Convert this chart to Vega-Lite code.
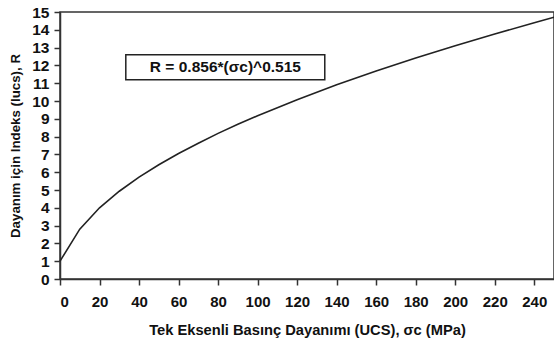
{
  "$schema": "https://vega.github.io/schema/vega-lite/v6.json",
  "width": 494,
  "height": 267,
  "autosize": "none",
  "padding": {"left": 60, "top": 12, "right": 0, "bottom": 71},
  "background": "white",
  "config": {
    "view": {"stroke": "#333", "strokeWidth": 1.5},
    "font": "Liberation Sans",
    "axis": {
      "grid": false,
      "labelOverlap": false,
      "domainColor": "#333", "domainWidth": 1.5,
      "tickColor": "#333", "tickWidth": 1.5, "tickSize": 6,
      "labelFont": "Liberation Sans", "labelFontWeight": "bold", "labelColor": "#111",
      "titleFont": "Liberation Sans", "titleFontWeight": "bold", "titleColor": "#111"
    },
    "axisX": {"labelFontSize": 15, "labelPadding": 9, "titleFontSize": 14.7, "titlePadding": 13},
    "axisY": {"labelFontSize": 15.5, "labelPadding": 5, "titleFontSize": 13.3, "titlePadding": 9}
  },
  "datasets": {
    "curve": [
      {"sigma": 0, "R": 1.0},
      {"sigma": 10, "R": 2.8},
      {"sigma": 20, "R": 4.0},
      {"sigma": 30, "R": 4.93},
      {"sigma": 40, "R": 5.72},
      {"sigma": 50, "R": 6.42},
      {"sigma": 60, "R": 7.05},
      {"sigma": 70, "R": 7.63},
      {"sigma": 80, "R": 8.18},
      {"sigma": 90, "R": 8.69},
      {"sigma": 100, "R": 9.17},
      {"sigma": 120, "R": 10.07},
      {"sigma": 140, "R": 10.91},
      {"sigma": 160, "R": 11.68},
      {"sigma": 180, "R": 12.41},
      {"sigma": 200, "R": 13.11},
      {"sigma": 220, "R": 13.76},
      {"sigma": 240, "R": 14.4},
      {"sigma": 250, "R": 14.71}
    ],
    "box": [
      {"x1": 33.3, "x2": 134, "y1": 11.2, "y2": 12.6, "xc": 83.7, "yc": 11.9, "label": "R = 0.856*(σc)^0.515"}
    ]
  },
  "layer": [
    {
      "data": {"name": "curve"},
      "mark": {"type": "line", "color": "#222", "strokeWidth": 1.6},
      "encoding": {
        "x": {
          "field": "sigma", "type": "quantitative",
          "scale": {"domain": [0, 250], "nice": false},
          "axis": {
            "title": "Tek Eksenli Basınç Dayanımı (UCS), σc (MPa)",
            "values": [0, 20, 40, 60, 80, 100, 120, 140, 160, 180, 200, 220, 240]
          }
        },
        "y": {
          "field": "R", "type": "quantitative",
          "scale": {"domain": [0, 15], "nice": false},
          "axis": {
            "title": "Dayanım için Indeks (Iucs), R",
            "values": [0, 1, 2, 3, 4, 5, 6, 7, 8, 9, 10, 11, 12, 13, 14, 15]
          }
        }
      }
    },
    {
      "data": {"name": "box"},
      "mark": {"type": "rect", "fill": "white", "stroke": "#222", "strokeWidth": 1.5},
      "encoding": {
        "x": {"field": "x1", "type": "quantitative", "axis": {"title": "Tek Eksenli Basınç Dayanımı (UCS), σc (MPa)", "values": [0, 20, 40, 60, 80, 100, 120, 140, 160, 180, 200, 220, 240]}},
        "x2": {"field": "x2"},
        "y": {"field": "y1", "type": "quantitative", "axis": {"title": "Dayanım için Indeks (Iucs), R", "values": [0, 1, 2, 3, 4, 5, 6, 7, 8, 9, 10, 11, 12, 13, 14, 15]}},
        "y2": {"field": "y2"}
      }
    },
    {
      "data": {"name": "box"},
      "mark": {"type": "text", "font": "Liberation Sans", "fontSize": 15.5, "fontWeight": "bold", "color": "#111", "align": "center", "baseline": "middle"},
      "encoding": {
        "x": {"field": "xc", "type": "quantitative", "axis": {"title": "Tek Eksenli Basınç Dayanımı (UCS), σc (MPa)", "values": [0, 20, 40, 60, 80, 100, 120, 140, 160, 180, 200, 220, 240]}},
        "y": {"field": "yc", "type": "quantitative", "axis": {"title": "Dayanım için Indeks (Iucs), R", "values": [0, 1, 2, 3, 4, 5, 6, 7, 8, 9, 10, 11, 12, 13, 14, 15]}},
        "text": {"field": "label"}
      }
    }
  ]
}
